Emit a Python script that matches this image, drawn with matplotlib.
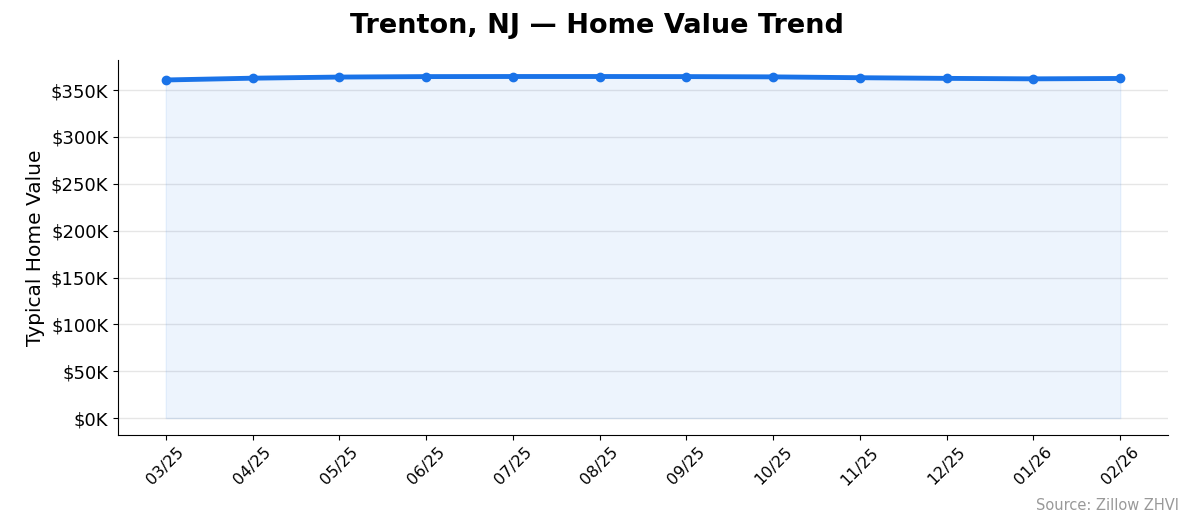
import matplotlib
matplotlib.use("Agg")
import matplotlib.pyplot as plt
from matplotlib.ticker import FuncFormatter

months = ["03/25","04/25","05/25","06/25","07/25","08/25","09/25","10/25","11/25","12/25","01/26","02/26"]
values = [360700, 362600, 363800, 364300, 364400, 364400, 364300, 364000, 363100, 362400, 361900, 362300]

fig = plt.figure(figsize=(11.94, 5.29), dpi=100)
ax = fig.add_axes([118/1194, 1-435/529, 1050/1194, 375/529])
x = list(range(len(months)))
ax.fill_between(x, values, 0, color="#1a73e8", alpha=0.08)
ax.plot(x, values, color="#1a73e8", linewidth=3.5, marker="o", markersize=6)
ax.set_ylim(-18000, 382000)
ax.set_xlim(-0.55, 11.55)
ax.set_yticks(range(0, 350001, 50000))
ax.yaxis.set_major_formatter(FuncFormatter(lambda v, p: f"${v/1000:.0f}K"))
ax.set_xticks(x)
ax.set_xticklabels(months, rotation=45, fontsize=11.5)
ax.tick_params(axis="y", labelsize=13)
ax.grid(axis="y", color="#e6e6e6", linewidth=1)
ax.set_axisbelow(True)
for s in ["top", "right"]:
    ax.spines[s].set_visible(False)
ax.set_ylabel("Typical Home Value", fontsize=14.5)
fig.text(0.5, 1-26/529, "Trenton, NJ — Home Value Trend", ha="center", va="center", fontsize=19.5, fontweight="bold")
fig.text(1179/1194, 1-506/529, "Source: Zillow ZHVI", ha="right", va="center", fontsize=10.5, color="#999999")
fig.savefig("out.png", dpi=100, facecolor="white")
